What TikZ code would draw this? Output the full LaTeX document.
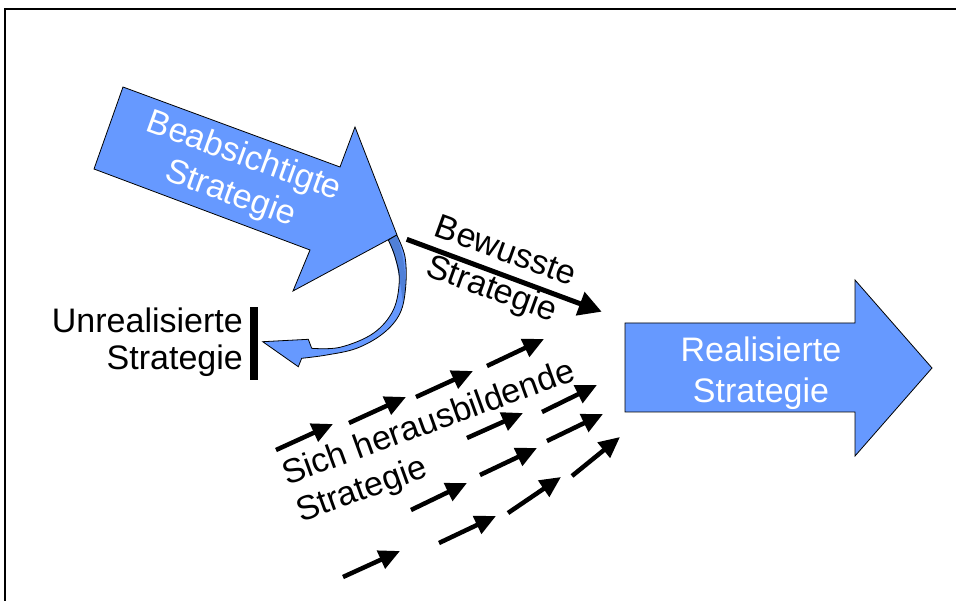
\documentclass[tikz,border=0pt]{standalone}
\usepackage{fontspec}
\setmainfont{Liberation Sans}
\usetikzlibrary{arrows.meta}

\definecolor{stratblue}{RGB}{102,153,255}
\definecolor{stratdark}{RGB}{80,128,216}

\tikzset{
    bigarrow/.style={fill=stratblue, draw=black, line width=0.8pt, line join=miter},
    smallarrow/.style={line width=4.5pt, -{Triangle[length=21pt,width=19pt]}},
    stratlabel/.style={font=\fontsize{34}{40}\selectfont, inner sep=0pt, align=center}
}

\begin{document}
\begin{tikzpicture}[x=1pt, y=-1pt]

            \useasboundingbox (0,0) rectangle (956,601);
            \def \tens{0.6};
            \def \bandpath{plot[smooth, tension=\tens] coordinates {(396.7,235) (405,256.7) (405.7,286.7) (400,313.3) (383.3,333.3) (356.7,348.3) (326.7,355) (301.7,358.3)}
                -- (298.3,366.7) -- (262.7,341.7) -- (308.3,339.3)
                -- plot[smooth, tension=\tens] coordinates {(311.7,348.3) (340,347.3) (373.3,333.3) (393.3,310) (399.3,280) (395,256.7) (388.3,240)}
                -- cycle};

            % frame
            \draw[line width=2pt] (4.5,601) -- (4.5,9.5) -- (956,9.5);

            % intended strategy
            \draw[bigarrow] (123,87) -- (340,167) -- (355,127) -- (397,235)
                -- (293,291) -- (310,250) -- (94,169) -- cycle;
            \node (beab) at (237,176) [stratlabel, text=white, rotate=-20] {Beabsichtigte\\Strategie};

            % unrealized strategy
            \fill[stratblue] \bandpath;
            \fill[stratdark] plot[smooth, tension=\tens] coordinates {(396.7,235) (403,258) (405.5,285) (403,304)}
                -- plot[smooth, tension=\tens] coordinates {(403,304) (400,282) (395,258) (388.3,240)} -- cycle;
            \draw[line width=0.8pt, line join=miter] \bandpath;
            \node (unreal) at (243,342) [stratlabel, anchor=east, align=right, font=\fontsize{34}{37}\selectfont] {Unrealisierte\\Strategie};
            \fill (250,307) rectangle (258,380);

            % deliberate strategy
            \coordinate (bewstart) at (406.7,239.3);
            \coordinate (bewend) at (601.7,311.7);
            \draw[line width=5pt, -{Triangle[length=23pt,width=24pt]}] (bewstart) -- (bewend);
            \node (bew) at (498,272) [stratlabel, rotate=-20] {Bewusste\\Strategie};

            % emergent strategy
            \foreach \sx/\sy/\ex/\ey in {276/450/333/424, 349/423/406/397, 416/397/473/371, 487/366/544/339,
                    542/412/597/385, 467/438/523/413, 547/441/603/414, 480/475/537/448, 411/510/467/483,
                    572/476/620/437, 508/513/561/477, 439/543/496/516, 343/577/400/551} {
                \draw[smallarrow] (\sx,\sy) -- (\ex,\ey);
            }
            \node (emerg) at (436,443) [stratlabel, rotate=20, align=left] {Sich herausbildende\\Strategie};

            % realized strategy
            \draw[bigarrow] (625,323) -- (855,323) -- (855,280) -- (932,368)
                -- (855,456) -- (855,412) -- (625,412) -- cycle;
            \node (real) at (761,373) [stratlabel, text=white, font=\fontsize{34}{41}\selectfont] {Realisierte\\Strategie};

\end{tikzpicture}
\end{document}
